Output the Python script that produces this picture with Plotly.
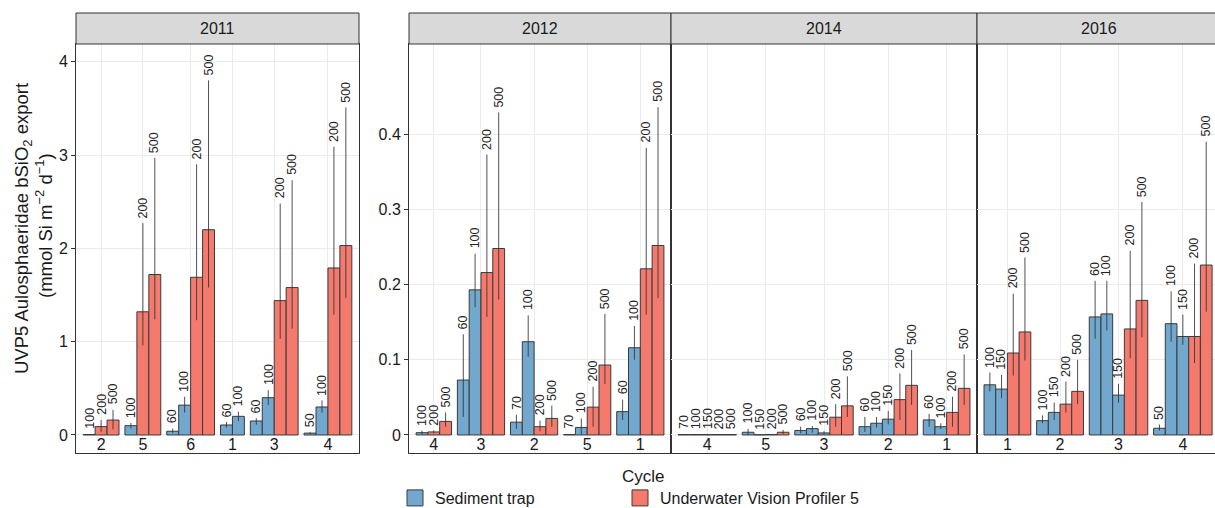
import plotly.graph_objects as go

# ---------------- data ----------------
years = ["2011", "2012", "2014", "2016"]
source_names = {"ST": "Sediment trap", "UVP": "Underwater Vision Profiler 5"}
source_colors = {"ST": "#72A8CD", "UVP": "#F47A6E"}

cycle_2011 = ["2", "2", "2", "5", "5", "5", "6", "6", "6", "6", "1", "1", "3", "3", "3", "3", "4", "4", "4", "4"]
depth_2011 = [100, 200, 500, 100, 200, 500, 60, 100, 200, 500, 60, 100, 60, 100, 200, 500, 50, 100, 200, 500]
source_2011 = ["ST", "UVP", "UVP", "ST", "UVP", "UVP", "ST", "ST", "UVP", "UVP", "ST", "ST", "ST", "ST", "UVP", "UVP", "ST", "ST", "UVP", "UVP"]
value_2011 = [0.005, 0.09, 0.16, 0.10, 1.32, 1.72, 0.04, 0.32, 1.69, 2.20, 0.107, 0.20, 0.15, 0.40, 1.44, 1.58, 0.02, 0.30, 1.79, 2.03]
lower_2011 = [0.0, 0.03, 0.06, 0.07, 0.96, 1.24, 0.02, 0.24, 1.23, 1.58, 0.08, 0.15, 0.11, 0.32, 1.03, 1.14, 0.01, 0.24, 1.29, 1.47]
upper_2011 = [0.01, 0.16, 0.27, 0.13, 2.27, 2.97, 0.07, 0.41, 2.90, 3.80, 0.14, 0.25, 0.18, 0.48, 2.48, 2.73, 0.03, 0.37, 3.09, 3.51]

cycle_2012 = ["4", "4", "4", "3", "3", "3", "3", "2", "2", "2", "2", "5", "5", "5", "5", "1", "1", "1", "1"]
depth_2012 = [100, 200, 500, 60, 100, 200, 500, 70, 100, 200, 500, 70, 100, 200, 500, 60, 100, 200, 500]
source_2012 = ["ST", "UVP", "UVP", "ST", "ST", "UVP", "UVP", "ST", "ST", "UVP", "UVP", "ST", "ST", "UVP", "UVP", "ST", "ST", "UVP", "UVP"]
value_2012 = [0.003, 0.004, 0.018, 0.073, 0.193, 0.216, 0.248, 0.017, 0.124, 0.011, 0.022, 0.0005, 0.010, 0.037, 0.093, 0.031, 0.116, 0.221, 0.252]
lower_2012 = [0.001, 0.002, 0.011, 0.024, 0.170, 0.157, 0.180, 0.008, 0.104, 0.005, 0.011, 0.0, 0.0, 0.011, 0.068, 0.020, 0.100, 0.160, 0.182]
upper_2012 = [0.006, 0.006, 0.030, 0.134, 0.241, 0.373, 0.429, 0.027, 0.159, 0.019, 0.039, 0.001, 0.022, 0.064, 0.161, 0.047, 0.145, 0.382, 0.436]

cycle_2014 = ["4", "4", "4", "4", "4", "5", "5", "5", "5", "3", "3", "3", "3", "3", "2", "2", "2", "2", "2", "1", "1", "1", "1"]
depth_2014 = [70, 100, 150, 200, 500, 100, 150, 200, 500, 60, 100, 150, 200, 500, 60, 100, 150, 200, 500, 60, 100, 200, 500]
source_2014 = ["ST", "ST", "ST", "UVP", "UVP", "ST", "ST", "UVP", "UVP", "ST", "ST", "ST", "UVP", "UVP", "ST", "ST", "ST", "UVP", "UVP", "ST", "ST", "UVP", "UVP"]
value_2014 = [0.0005, 0.0005, 0.0005, 0.0005, 0.0005, 0.0036, 0.0003, 0.0005, 0.0036, 0.006, 0.0084, 0.0027, 0.0236, 0.0387, 0.011, 0.0156, 0.021, 0.047, 0.066, 0.020, 0.011, 0.030, 0.062]
lower_2014 = [0.0, 0.0, 0.0, 0.0, 0.0, 0.0, 0.0, 0.0, 0.001, 0.002, 0.003, 0.001, 0.011, 0.024, 0.004, 0.010, 0.014, 0.020, 0.040, 0.011, 0.008, 0.011, 0.040]
upper_2014 = [0.001, 0.001, 0.001, 0.001, 0.001, 0.008, 0.0006, 0.001, 0.0067, 0.011, 0.012, 0.005, 0.041, 0.078, 0.024, 0.024, 0.032, 0.082, 0.113, 0.028, 0.0156, 0.051, 0.107]

cycle_2016 = ["1", "1", "1", "1", "2", "2", "2", "2", "3", "3", "3", "3", "3", "4", "4", "4", "4", "4"]
depth_2016 = [100, 150, 200, 500, 100, 150, 200, 500, 60, 100, 150, 200, 500, 50, 100, 150, 200, 500]
source_2016 = ["ST", "ST", "UVP", "UVP", "ST", "ST", "UVP", "UVP", "ST", "ST", "ST", "UVP", "UVP", "ST", "ST", "ST", "UVP", "UVP"]
value_2016 = [0.0667, 0.061, 0.109, 0.137, 0.019, 0.030, 0.041, 0.058, 0.157, 0.161, 0.053, 0.141, 0.179, 0.0089, 0.148, 0.131, 0.131, 0.226]
lower_2016 = [0.058, 0.049, 0.079, 0.099, 0.0156, 0.020, 0.030, 0.041, 0.128, 0.139, 0.043, 0.102, 0.130, 0.006, 0.124, 0.120, 0.0956, 0.164]
upper_2016 = [0.083, 0.080, 0.188, 0.236, 0.026, 0.043, 0.071, 0.100, 0.205, 0.205, 0.068, 0.245, 0.310, 0.014, 0.191, 0.160, 0.228, 0.390]

y_ticks_2011 = [0, 1, 2, 3, 4]
y_ticks_other = [0, 0.1, 0.2, 0.3, 0.4]

# ---------------- layout constants (pixels) ----------------
W, H = 1215, 508
FONT = "Liberation Sans, Arial, sans-serif"
panel_px = [(76, 359), (409, 671), (671, 977), (977, 1215)]
strip_top, plot_top, plot_bottom = 13, 44, 453
GAP, PAD_L, PAD_R = 0.5, 0.6, 0.6
y_range_2011 = [-0.193, 4.19]
y_range_other = [-0.024, 0.520]

def fx(p):
    return p / W

def fy(p):
    return 1 - p / H

panels = [
    (cycle_2011, depth_2011, source_2011, value_2011, lower_2011, upper_2011),
    (cycle_2012, depth_2012, source_2012, value_2012, lower_2012, upper_2012),
    (cycle_2014, depth_2014, source_2014, value_2014, lower_2014, upper_2014),
    (cycle_2016, depth_2016, source_2016, value_2016, lower_2016, upper_2016),
]

def bar_positions(cycles):
    xs, pos, prev = [], 0.0, None
    groups = []
    for c in cycles:
        if prev is not None and c != prev:
            pos += GAP
        if c != prev:
            groups.append([c, pos, pos])
        xs.append(pos + 0.5)
        pos += 1
        groups[-1][2] = pos
        prev = c
    tickvals = [(g[1] + g[2]) / 2 for g in groups]
    ticktext = [g[0] for g in groups]
    return xs, tickvals, ticktext, pos

fig = go.Figure()
annotations = []
shapes = []

for i, (cyc, dep, src, val, lo, hi) in enumerate(panels):
    n = i + 1
    xa = "x" if n == 1 else f"x{n}"
    ya = "y" if n == 1 else f"y{n}"
    xs, tv, tt, total = bar_positions(cyc)
    for s in ["ST", "UVP"]:
        idx = [k for k in range(len(src)) if src[k] == s]
        if not idx:
            continue
        fig.add_trace(go.Bar(
            x=[xs[k] for k in idx], y=[val[k] for k in idx], width=1,
            xaxis=xa, yaxis=ya, name=source_names[s], showlegend=False,
            marker=dict(color=source_colors[s], line=dict(color="#3a3a3a", width=1)),
            error_y=dict(type="data", symmetric=False,
                         array=[hi[k] - val[k] for k in idx],
                         arrayminus=[val[k] - lo[k] for k in idx],
                         color="rgba(50,50,50,0.85)", thickness=1, width=0),
        ))
    for k in range(len(xs)):
        annotations.append(dict(
            x=xs[k], y=hi[k], xref=xa, yref=ya, text=str(dep[k]), textangle=-90,
            showarrow=False, xanchor="center", yanchor="bottom", yshift=3,
            font=dict(family=FONT, size=12.5, color="#222222")))
    x0p, x1p = panel_px[i]
    right = total + (0.25 if n == 4 else PAD_R)
    xkey = "xaxis" if n == 1 else f"xaxis{n}"
    ykey = "yaxis" if n == 1 else f"yaxis{n}"
    fig.layout[xkey] = dict(
        domain=[fx(x0p), fx(x1p)], range=[-PAD_L, right], anchor=ya,
        tickmode="array", tickvals=tv, ticktext=tt, ticks="",
        ticklabelposition="inside",
        showgrid=True, gridcolor="#EBEBEB", gridwidth=1,
        zeroline=False, showline=True, linecolor="#333333", linewidth=1, mirror=True,
        tickfont=dict(family=FONT, size=16, color="#1a1a1a"), fixedrange=True)
    ycfg = dict(
        domain=[fy(plot_bottom), fy(plot_top)], anchor=xa,
        range=y_range_2011 if n == 1 else y_range_other,
        tickmode="array", tickvals=y_ticks_2011 if n == 1 else y_ticks_other,
        showgrid=True, gridcolor="#EBEBEB", gridwidth=1, zeroline=False,
        showline=True, linecolor="#333333", linewidth=1,
        mirror=(n != 4), fixedrange=True,
        tickfont=dict(family=FONT, size=16, color="#1a1a1a"))
    if n in (1, 2):
        ycfg.update(ticks="outside", ticklen=4, tickcolor="#333333", showticklabels=True)
    else:
        ycfg.update(ticks="", showticklabels=False)
    fig.layout[ykey] = ycfg
    # strip
    shapes.append(dict(type="rect", xref="paper", yref="paper",
                       x0=fx(x0p), x1=(fx(x1p) if n < 4 else 1.01),
                       y0=fy(plot_top), y1=fy(strip_top),
                       fillcolor="#D9D9D9", line=dict(color="#333333", width=1), layer="above"))
    annotations.append(dict(x=fx((x0p + (x1p if n < 4 else x1p + 6)) / 2), y=fy((strip_top + plot_top) / 2),
                            xref="paper", yref="paper", text=years[i], showarrow=False,
                            xanchor="center", yanchor="middle",
                            font=dict(family=FONT, size=16, color="#1a1a1a")))

# legend entries (one legend per entry for exact placement)
for s, lg in [("ST", "legend"), ("UVP", "legend2")]:
    fig.add_trace(go.Scatter(x=[None], y=[None], mode="markers", name=source_names[s],
                             marker=dict(symbol="square", size=16, color=source_colors[s],
                                         line=dict(color="#3a3a3a", width=1)),
                             showlegend=True, legend=lg))

# axis titles
annotations.append(dict(x=fx(23), y=fy(229), xref="paper", yref="paper",
                        text="UVP5 Aulosphaeridae bSiO<sub>2</sub> export", textangle=-90,
                        showarrow=False, xanchor="center", yanchor="middle",
                        font=dict(family=FONT, size=18.5, color="#1a1a1a")))
annotations.append(dict(x=fx(44), y=fy(226), xref="paper", yref="paper",
                        text="(mmol Si m<sup>\u22122</sup> d<sup>\u22121</sup>)", textangle=-90,
                        showarrow=False, xanchor="center", yanchor="middle",
                        font=dict(family=FONT, size=18.5, color="#1a1a1a")))
annotations.append(dict(x=fx(643), y=fy(476), xref="paper", yref="paper", text="Cycle",
                        showarrow=False, xanchor="center", yanchor="middle",
                        font=dict(family=FONT, size=17, color="#1a1a1a")))

leg_common = dict(orientation="h", xanchor="left", yanchor="middle",
                  font=dict(family=FONT, size=16, color="#1a1a1a"), bgcolor="rgba(0,0,0,0)")
fig.update_layout(
    width=W, height=H, margin=dict(l=0, r=0, t=0, b=0, autoexpand=False),
    paper_bgcolor="white", plot_bgcolor="white", barmode="overlay",
    annotations=annotations, shapes=shapes,
    legend=dict(x=fx(395), y=fy(498), **leg_common),
    legend2=dict(x=fx(620), y=fy(498), **leg_common),
    font=dict(family=FONT),
)

fig.write_html(
    "out.html",
    config={"displayModeBar": False},
    post_script="document.body.style.margin='0';document.body.style.overflow='hidden';",
)
